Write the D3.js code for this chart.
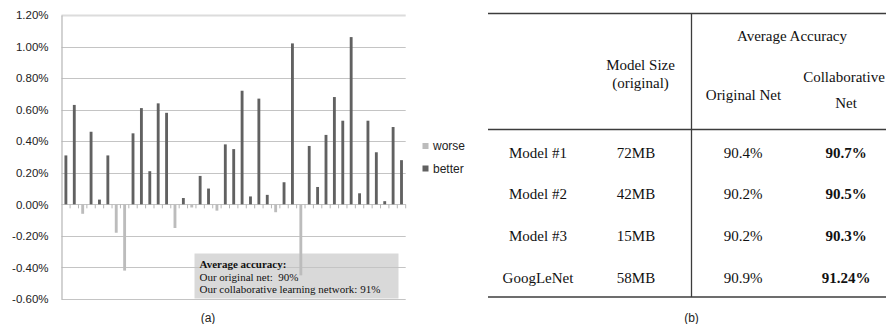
<!DOCTYPE html>
<html><head><meta charset="utf-8">
<script src="https://cdn.jsdelivr.net/npm/d3@7"></script>
<style>body{margin:0;background:#fff}svg{display:block}</style>
</head><body>
<svg id="c" width="886" height="324"></svg>
<script>
// ---- data ----
const categories = d3.range(1, 42);
const worse = [null,null,-0.06,null,null,null,-0.18,-0.42,null,null,null,null,null,-0.15,null,-0.02,null,null,-0.04,null,null,null,null,null,null,-0.05,null,null,-0.45,null,null,null,null,null,null,null,null,null,null,null,null];
const better = [0.31,0.63,null,0.46,0.03,0.31,null,null,0.45,0.61,0.21,0.64,0.58,null,0.04,null,0.18,0.10,null,0.38,0.35,0.72,0.05,0.67,0.06,null,0.14,1.02,null,0.37,0.11,0.44,0.68,0.53,1.06,0.07,0.53,0.33,0.02,0.49,0.28];
const yTicks = [-0.6,-0.4,-0.2,0,0.2,0.4,0.6,0.8,1.0,1.2];
const seriesNames = ["worse","better"];
const noteLines = ["Average accuracy:","Our original net:\u00a0 90%","Our collaborative learning network: 91%"];
const tableHeader = {size:["Model Size","(original)"], group:"Average Accuracy", orig:"Original Net", collab:["Collaborative","Net"]};
const modelNames = ["Model #1","Model #2","Model #3","GoogLeNet"];
const modelSizes = ["72MB","42MB","15MB","58MB"];
const origAcc = ["90.4%","90.2%","90.2%","90.9%"];
const collabAcc = ["90.7%","90.5%","90.3%","91.24%"];

const svg = d3.select("#c");
const sans = "'Liberation Sans', Arial, sans-serif";
const serif = "'Liberation Serif', 'Times New Roman', serif";
const cWorse = "#bcbcbc", cBetter = "#616161";

// ---- chart (a) ----
const x = d3.scaleBand().domain(categories).range([61.7, 405.7]).paddingInner(0.66).paddingOuter(0.33);
const y = d3.scaleLinear().domain([-0.6, 1.2]).range([299, 15]);

// annotation box (behind)
svg.append("rect").attr("x",194.5).attr("y",253.5).attr("width",204).attr("height",45)
  .attr("fill","#d9d9d9");

// gridlines
svg.append("g").selectAll("line").data(yTicks).join("line")
  .attr("x1",61.5).attr("x2",405.7)
  .attr("y1",d=>Math.round(y(d))+0.5).attr("y2",d=>Math.round(y(d))+0.5)
  .attr("stroke",d=>d===1.2?"#dcdcdc":"#c4c4c4")
  .attr("stroke-width",d=>d===1.2?2:1.2);

// y axis
const yAxis = d3.axisLeft(y).tickValues(yTicks).tickFormat(d=>d.toFixed(2)+"%").tickSize(0).tickPadding(13);
const gy = svg.append("g").attr("transform","translate(61.5,0)").call(yAxis);
gy.select(".domain").attr("stroke","#b5b5b5").attr("stroke-width",1.2);
gy.selectAll("text").attr("font-family",sans).attr("font-size",11.5).attr("fill","#222");

// zero axis with ticks at category boundaries
const step = x.step();
const bounds = d3.range(0, 42).map(i => 61.7 + i*step);
svg.append("g").selectAll("line").data(bounds.slice(1)).join("line")
  .attr("x1",d=>d).attr("x2",d=>d).attr("y1",y(0)).attr("y2",y(0)+4)
  .attr("stroke","#b5b5b5").attr("stroke-width",1);

// bars
function bars(vals, color){
  svg.append("g").selectAll("rect").data(categories.map((c,i)=>({c,v:vals[i]})).filter(d=>d.v!=null))
    .join("rect")
    .attr("x",d=>x(d.c)).attr("width",x.bandwidth())
    .attr("y",d=>y(Math.max(0,d.v))).attr("height",d=>Math.abs(y(d.v)-y(0)))
    .attr("fill",color);
}
bars(worse, cWorse);
bars(better, cBetter);

// note text
const nt = svg.append("g").attr("font-family",serif).attr("font-size",11).attr("fill","#111");
nt.selectAll("text").data(noteLines).join("text")
  .attr("x",199.5).attr("y",(d,i)=>268+i*12.6)
  .attr("font-weight",(d,i)=>i===0?"bold":"normal")
  .text(d=>d);

// legend
const lg = svg.append("g");
seriesNames.forEach((n,i)=>{
  lg.append("rect").attr("x",422.5).attr("y",143+i*22.5).attr("width",6).attr("height",6)
    .attr("fill",i===0?cWorse:cBetter);
  lg.append("text").attr("x",433).attr("y",146+i*22.5).attr("dy","0.35em")
    .attr("font-family",sans).attr("font-size",12).attr("fill","#222").text(n);
});

svg.append("text").attr("x",208).attr("y",318).attr("dy","0.35em").attr("text-anchor","middle")
  .attr("font-family",sans).attr("font-size",12).attr("fill","#222").text("(a)");

// ---- table (b) ----
const lineC = "#3c3c3c";
const tg = svg.append("g");
[13.5,129.5,297].forEach(yy=>{
  tg.append("line").attr("x1",488).attr("x2",886).attr("y1",yy).attr("y2",yy)
    .attr("stroke",lineC).attr("stroke-width",1.3);
});
tg.append("line").attr("x1",691.5).attr("x2",691.5).attr("y1",13.5).attr("y2",297)
  .attr("stroke",lineC).attr("stroke-width",1.3);

const colX = [538, 636, 743, 846];
const rowY = d3.scaleBand().domain(modelNames).range([132, 299]);
const tt = (xx,yy,t,bold)=>tg.append("text").attr("x",xx).attr("y",yy).attr("dy","0.35em")
  .attr("text-anchor","middle").attr("font-family",serif).attr("font-size",15)
  .attr("font-weight",bold?"bold":"normal").attr("fill","#111").text(t);

tt(792,36,tableHeader.group);
tt(640.5,65,tableHeader.size[0]);
tt(640.5,83,tableHeader.size[1]);
tt(743.5,95,tableHeader.orig);
tt(844,77,tableHeader.collab[0]);
tt(846,103,tableHeader.collab[1]);

modelNames.forEach((m,i)=>{
  const yy = rowY(m) + rowY.bandwidth()/2 - 0.5;
  tt(colX[0],yy,m);
  tt(colX[1],yy,modelSizes[i]);
  tt(colX[2],yy,origAcc[i]);
  tt(colX[3],yy,collabAcc[i],true);
});

svg.append("text").attr("x",691.5).attr("y",318).attr("dy","0.35em").attr("text-anchor","middle")
  .attr("font-family",sans).attr("font-size",12).attr("fill","#222").text("(b)");
</script>
</body></html>
